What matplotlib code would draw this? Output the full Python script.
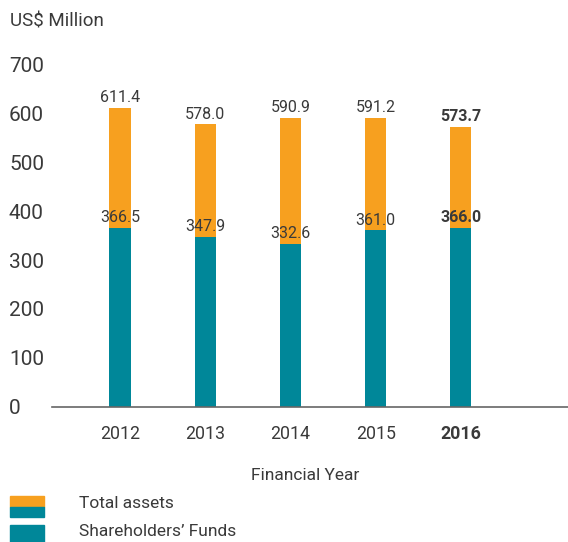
import numpy as np
import matplotlib.pyplot as plt
from matplotlib.patches import Rectangle

plt.rcParams['font.family'] = ['Roboto', 'DejaVu Sans']

years = ['2012', '2013', '2014', '2015', '2016']
total_assets = [611.4, 578.0, 590.9, 591.2, 573.7]
shareholders_funds = [366.5, 347.9, 332.6, 361.0, 366.0]

orange = '#F7A01F'
teal = '#008799'
txt = '#3a3a3a'
wt = 'normal'

fig = plt.figure(figsize=(5.68, 5.42), dpi=100)
ax = fig.add_axes([52 / 568, 135.5 / 542, 516 / 568, 366 / 542])

ind = np.arange(len(years))
width = 0.25

ax.bar(ind, total_assets, width, color=orange, zorder=2)
ax.bar(ind, shareholders_funds, width, color=teal, zorder=3)

ax.set_xlim(-0.80, 5.26)
ax.set_ylim(0, 750)

ax.set_yticks(np.arange(0, 701, 100))
ax.set_yticklabels([str(v) for v in range(0, 701, 100)], fontsize=15,
                   color=txt, ha='left', fontweight=wt)
ax.tick_params(axis='y', length=0, pad=31)
ax.set_xticks(ind)
ax.set_xticklabels(years, fontsize=12.8, color=txt, fontweight=wt)
ax.get_xticklabels()[-1].set_fontweight('bold')
ax.tick_params(axis='x', length=0, pad=13)

for s in ['top', 'right', 'left']:
    ax.spines[s].set_visible(False)
ax.spines['bottom'].set_color('#666666')
ax.spines['bottom'].set_linewidth(1.2)
ax.spines['bottom'].set_zorder(4)


def autolabel(values, last_bold=True):
    for i, v in enumerate(values):
        bold = last_bold and i == len(values) - 1
        ax.annotate('%.1f' % v, (ind[i], v), xytext=(0, 2),
                    textcoords='offset points', ha='center', va='bottom',
                    fontsize=11.5, color=txt, zorder=5,
                    fontweight='bold' if bold else wt)


autolabel(total_assets)
autolabel(shareholders_funds)

fig.text(10 / 568, 1 - 21 / 542, 'US$ Million', fontsize=13.5, color=txt,
         va='center', ha='left', fontweight=wt)
fig.text(305 / 568, 1 - 475 / 542, 'Financial Year', fontsize=12.5,
         color=txt, va='center', ha='center', fontweight=wt)

# legend
W, H = 568, 542
fig.patches.append(Rectangle((10 / W, 1 - 507 / H), 34 / W, 11 / H,
                             transform=fig.transFigure, color=orange))
fig.patches.append(Rectangle((10 / W, 1 - 517 / H), 34 / W, 10.5 / H,
                             transform=fig.transFigure, color=teal))
fig.patches.append(Rectangle((10 / W, 1 - 542 / H), 34 / W, 17 / H,
                             transform=fig.transFigure, color=teal))
fig.text(79 / W, 1 - 503 / H, 'Total assets', fontsize=12.5, color=txt,
         va='center', ha='left', fontweight=wt)
fig.text(79 / W, 1 - 532 / H, 'Shareholders\u2019 Funds', fontsize=12.5,
         color=txt, va='center', ha='left', fontweight=wt)

fig.savefig('out.png', dpi=100)
